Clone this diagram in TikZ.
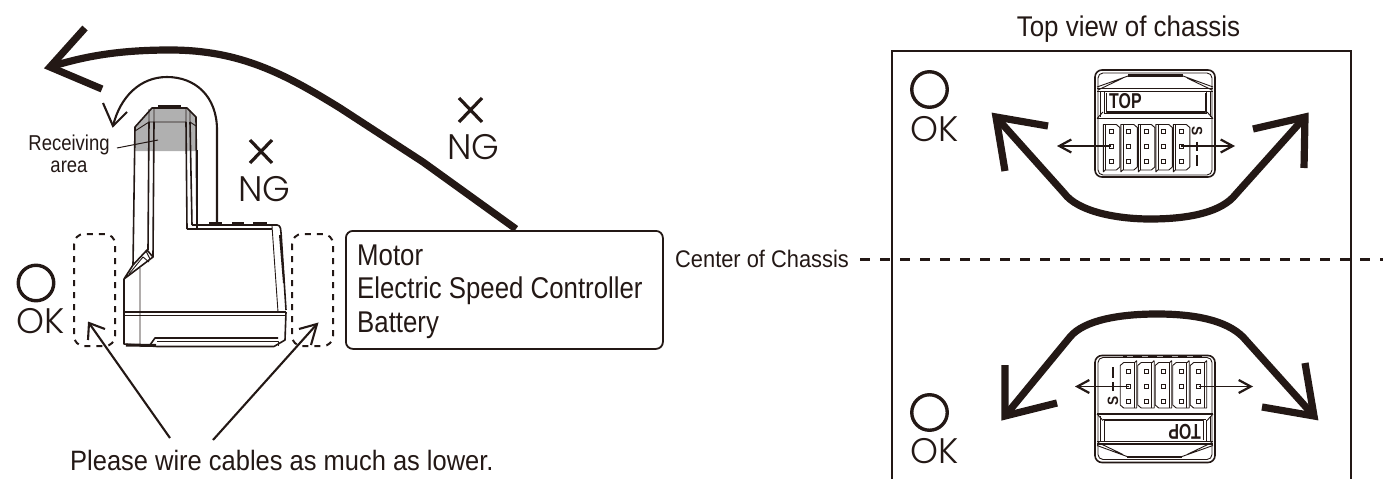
\documentclass[tikz,border=0pt]{standalone}
\usepackage{fontspec}
\setmainfont[FakeStretch=0.91]{Liberation Sans}
\newfontfamily\narrowfont[FakeStretch=0.86]{Liberation Sans}
\newfontfamily\tightfont[FakeStretch=0.74]{Liberation Sans}
\newfontfamily\lightfont{Poppins Light}
\usetikzlibrary{arrows.meta}
\definecolor{ink}{HTML}{231815}
\tikzset{
  ink/.style={draw=ink},
  label text/.style={text=ink,inner sep=0pt,anchor=base west},
  thin mark/.style={text=ink,inner sep=0pt,anchor=base west,font=\lightfont\fontsize{35.5}{35}\selectfont},
  okring/.style={draw=ink,line width=3.4pt,circle,minimum size=35.5pt,inner sep=0pt},
  bigarrow/.style={draw=ink,line width=7.2pt,line join=miter,miter limit=10},
  midarrow/.style={draw=ink,line width=2.1pt},
  xmark/.style={draw=ink,line width=3.2pt},
  dashzone/.style={draw=ink,line width=2pt,rounded corners=10pt,dash pattern=on 6pt off 6pt},
  outline/.style={draw=ink,line width=1.6pt,line join=round},
  hair/.style={draw=ink,line width=0.9pt,line join=round},
  pinarrow/.style={draw=ink,line width=1.8pt,-{Straight Barb[length=12pt,width=13pt,line width=2.2pt]}},
}
\newcommand{\recv}{%
  \draw[outline,rounded corners=7pt] (1095,70) rectangle (1215,177);
  \draw[hair,rounded corners=5pt] (1098,73) rectangle (1212,175);
  \draw[ink,line width=2.6pt] (1128,75.7) -- (1183,75.7);
  \draw[hair] (1097,87) -- (1128,76) (1213,87) -- (1183,76)
              (1098,90) -- (1123,78) (1212,90) -- (1187,78);
  \draw[outline] (1097,88.5) -- (1213,88.5);
  \draw[hair] (1097,91) -- (1213,91);
  \draw[hair] (1100,91) -- (1100,117) (1104,91) -- (1104,113)
              (1210,91) -- (1210,117) (1206,91) -- (1206,113);
  \draw[outline] (1106.5,92.5) -- (1106.5,112) -- (1205.5,112) -- (1205.5,92.5);
  \draw[hair] (1104,113.5) -- (1207,113.5);
  \draw[hair] (1097,118.5) -- (1103,112) (1213,118.5) -- (1207,112);
  \draw[outline] (1097,118.5) -- (1213,118.5);
  \node[text=ink,inner sep=0pt,anchor=base west,transform shape,font=\tightfont\bfseries\fontsize{21.5}{21}\selectfont] (toplabel) at (1109,108.3) {TOP};
  \foreach \px in {1111.3,1128.8,1146.3,1163.8,1181.3}{
    \draw[hair] (\px-8,172) -- (\px-8,124.5) -- (\px+5,124.5) -- (\px+8.5,127.5) -- (\px+8.5,167) -- (\px+5,170) -- (\px-6,170) -- (\px-8,172);
    \draw[hair] (\px-5.5,124.5) -- (\px-5.5,170);
    \foreach \py in {131.3,146,161}{
      \draw[ink,line width=1pt] (\px-2,\py-2) rectangle (\px+2,\py+2);
    }
  }
  \node[text=ink,inner sep=0pt,rotate=-90,transform shape,font=\bfseries\fontsize{15}{15}\selectfont] (slabel) at (1197,131.5) {S};
  \draw[ink,line width=1.6pt] (1197,141.5) -- (1197,150.5) (1194,146) -- (1200,146);
  \draw[ink,line width=2.2pt] (1197,155) -- (1197,166);
  \draw[ink,line width=2pt,dash pattern=on 9pt off 6pt] (1108,177) -- (1187,177);
}
\begin{document}
\begin{tikzpicture}[x=1pt,y=-1pt]
\useasboundingbox (0,0) rectangle (1389,479);

% ---- left receiver, side view
\fill[gray!62] (135,127) -- (152,108) -- (187,108) -- (196,117) -- (196,151) -- (135,151) -- cycle;
\draw[outline] (133,265) -- (135,127) -- (152,108) -- (187,108) -- (196,117) -- (197,228);
\draw[hair] (135,131) -- (149,122) -- (186,122) (149,109) -- (149,122) (154,109) -- (154,122)
            (186,108) -- (186,122) (190,110) -- (190,122) -- (196,126);
\draw[ink,line width=2.2pt] (158,106.5) -- (181,106.5);
\draw[outline] (149,122) -- (148,250) (154,122) -- (153,257) (186,122) -- (187,229) (190,122) -- (192,225);
\draw[ink,line width=2pt] (197,150) -- (197,225);
\draw[outline] (187,229) -- (272,229);
\draw[outline,rounded corners=3pt] (192,225) -- (280,225) -- (281,232) -- (286,310);
\draw[hair] (272,226) -- (278,312);
\draw[ink,line width=2pt] (280,235) -- (284,283);
\draw[outline] (124,279) -- (133,265) -- (147,250) -- (153,257) -- (124,279) -- (124,344) -- (157,346.5) -- (274,346.5) -- (285,340) -- (286,312);
\draw[hair] (129,274) -- (143,257) -- (149,262) (140,268) -- (140,347) (146,251) -- (150,259);
\draw[outline] (124,312) -- (286,312);
\draw[hair] (124,315) -- (285,315);
\draw[outline] (150,345) -- (155,338) -- (278,338);
\draw[hair] (157,341) -- (278,341) -- (278,346);
\draw[ink,line width=3pt] (126,345) -- (156,345.5);
\draw[ink,line width=3.4pt] (209,223.5) -- (222,223.5);
\draw[ink,line width=2pt] (232,223) -- (244,223) (253,223) -- (267,223);

% ---- zones and labels, left
\draw[dashzone] (74,234) rectangle (115,346);
\draw[dashzone] (292,234) rectangle (333,346);
\node[okring] (okA) at (36,283) {};
\node[thin mark] (okAtext) at (16,333) {OK};
\node[thin mark] (ngA) at (238,201) {NG};
\node[thin mark] (ngB) at (447,159) {NG};
\coordinate (xa1) at (250,140); \coordinate (xa2) at (272,163);
\coordinate (xa3) at (272,140); \coordinate (xa4) at (250,163);
\draw[xmark] (xa1) -- (xa2) (xa3) -- (xa4);
\coordinate (xb1) at (459,98); \coordinate (xb2) at (482,122);
\coordinate (xb3) at (482,98); \coordinate (xb4) at (459,122);
\draw[xmark] (xb1) -- (xb2) (xb3) -- (xb4);

\node[text=ink,inner sep=0pt,align=center,font=\narrowfont\fontsize{21.5}{22}\selectfont,anchor=base] (recvarea) at (69,172) {Receiving\\area};
\coordinate (leadEnd) at (158,140);
\draw[ink,line width=1pt] (117,148) -- (leadEnd);

% ---- box
\node[draw=ink,line width=1.8pt,rounded corners=7pt,minimum width=317pt,minimum height=118pt,inner sep=0pt,anchor=north west] (box) at (345,230) {};
\node[label text,font=\narrowfont\fontsize{30}{30}\selectfont] (boxA) at (357,265) {Motor};
\node[label text,font=\narrowfont\fontsize{30}{30}\selectfont] (boxB) at (357,298.5) {Electric Speed Controller};
\node[label text,font=\narrowfont\fontsize{30}{30}\selectfont] (boxC) at (357,332) {Battery};

% ---- big NG arrow
\coordinate (bigTip) at (50,67);
\coordinate (bigStart) at (516,229);
\draw[bigarrow] (bigStart) -- (423,162) -- (340,108) .. controls (285,74) and (240,50) .. (170,50) .. controls (120,50) and (85,56) .. (bigTip);
\draw[bigarrow] (85,28) -- (bigTip) -- (102,89);

% ---- small NG arrow
\coordinate (smTip) at (113,126);
\coordinate (smStart) at (217,222);
\draw[midarrow] (smStart) -- (217,130) .. controls (217,96) and (195,77) .. (167,77) .. controls (140,77) and (120,97) .. (smTip);
\draw[midarrow] (103,103) -- (smTip) -- (127,112);

% ---- cable arrows
\node[label text,font=\fontsize{28}{28}\selectfont] (wire) at (70,470) {Please wire cables as much as lower.};
\coordinate (wireL) at (170,438); \coordinate (tipL) at (89,323);
\coordinate (wireR) at (213,440); \coordinate (tipR) at (317,324);
\draw[midarrow] (wireL) -- (tipL);
\draw[midarrow] (88,340) -- (tipL) -- (105,329);
\draw[midarrow] (wireR) -- (tipR);
\draw[midarrow] (299,329) -- (tipR) -- (311,345);

% ---- chassis frame
\node[text=ink,inner sep=0pt,anchor=base,font=\fontsize{28.5}{28}\selectfont] (chassis) at (1128.5,36) {Top view of chassis};
\coordinate (fa) at (892,479); \coordinate (fb) at (892,50.7);
\coordinate (fc) at (1351,50.7); \coordinate (fd) at (1351,479);
\draw[ink,line width=2pt] (fa) -- (fb) -- (fc) -- (fd);
\node[label text,font=\fontsize{24}{24}\selectfont,anchor=base east] (center) at (849,267) {Center of Chassis};
\coordinate (dashEnd) at (1383,259.5);
\draw[ink,line width=3pt,dash pattern=on 10pt off 10pt] (860,259.5) -- (dashEnd);

\node[okring] (okB) at (929.5,89.5) {};
\node[thin mark] (okBtext) at (910,141.5) {OK};
\node[okring] (okC) at (929.5,412.5) {};
\node[thin mark] (okCtext) at (910,463) {OK};

% ---- receivers
\recv
\begin{scope}[rotate around={180:(1155,266.25)}]
\recv
\end{scope}

% ---- pin arrows
\coordinate (ta) at (1111,146); \coordinate (tb) at (1057,146);
\coordinate (tc) at (1181,146); \coordinate (td) at (1235,146);
\draw[pinarrow] (ta) -- (tb);
\draw[pinarrow] (tc) -- (td);
\coordinate (ba) at (1129,386.5); \coordinate (bb) at (1075,386.5);
\coordinate (bc) at (1199,386.5); \coordinate (bd) at (1253,386.5);
\draw[pinarrow] (ba) -- (bb);
\draw[pinarrow] (bc) -- (bd);

% ---- chassis rotation arrows
\coordinate (uL) at (996,117); \coordinate (uR) at (1305,117);
\draw[bigarrow] (uL) -- (1064,193) .. controls (1078,212) and (1118,219) .. (1150,219) .. controls (1190,219) and (1222,212) .. (1236,194) -- (uR);
\draw[bigarrow] (1048,126) -- (uL) -- (1005,171);
\draw[bigarrow] (1253,129) -- (uR) -- (1304,168);
\coordinate (dL) at (1005,416); \coordinate (dR) at (1314,416);
\draw[bigarrow] (dL) -- (1070,337) .. controls (1084,320) and (1120,314) .. (1157,314) .. controls (1194,314) and (1226,320) .. (1243,337) -- (dR);
\draw[bigarrow] (1005,365) -- (dL) -- (1057,403);
\draw[bigarrow] (1305,363) -- (dR) -- (1262,407);
\end{tikzpicture}
\end{document}
